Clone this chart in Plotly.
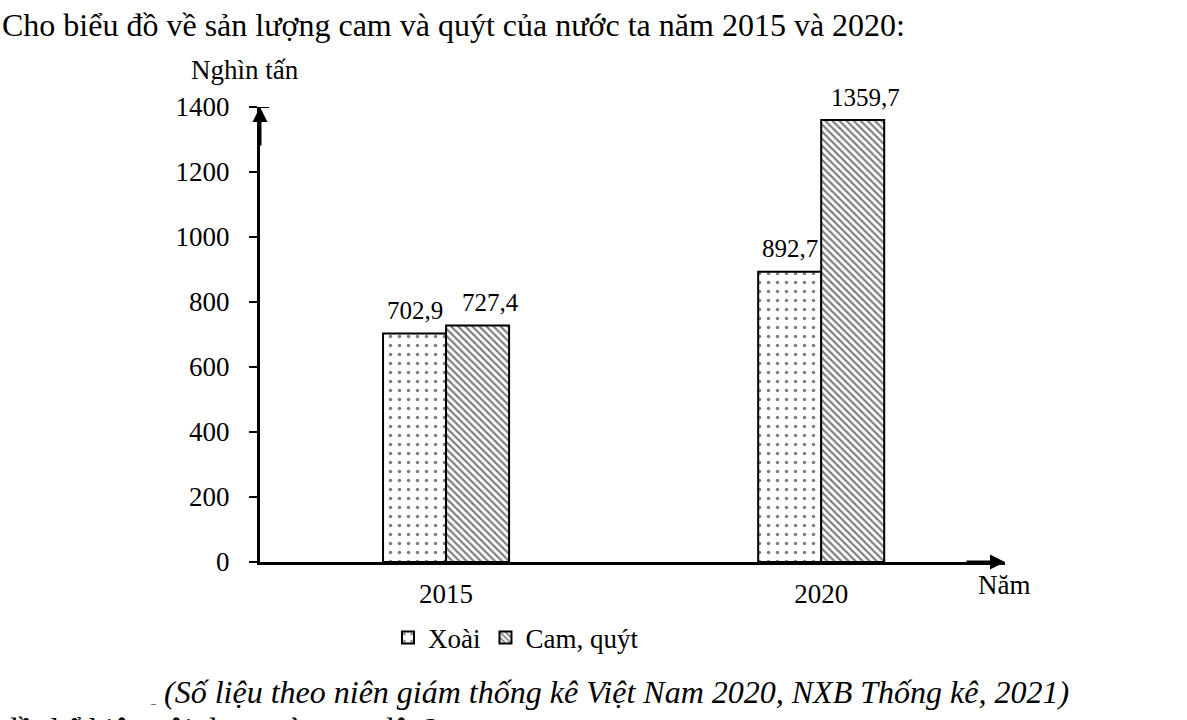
import plotly.graph_objects as go

# values (nghìn tấn)
YEARS = ["2015", "2020"]
XOAI = [702.9, 892.7]
CAM_QUYT = [727.4, 1359.7]
Y_TICKS = [0, 200, 400, 600, 800, 1000, 1200, 1400]

FONT = "Liberation Serif"
W, H = 1187, 720
# plot area in pixels
L, R, T, B = 260, 1005, 107, 562
BAR_W = 0.168


def paper(px, py):
    """pixel position -> paper coordinates of the plot area"""
    return (px - L) / (R - L), (B - py) / (B - T)


def note(px, py, text, size=27, xanchor="center", **kw):
    x, y = paper(px, py)
    fig.add_annotation(x=x, y=y, xref="paper", yref="paper", text=text,
                       xanchor=xanchor, yanchor="middle", showarrow=False,
                       font=dict(family=FONT, size=size, color="black"), **kw)


fig = go.Figure()

cats = list(range(len(YEARS)))

fig.add_trace(go.Bar(
    x=cats, y=XOAI, name="Xoài",
    offset=-BAR_W, width=BAR_W,
    marker=dict(color="white",
                line=dict(color="black", width=2),
                pattern=dict(shape=".", fgcolor="black", bgcolor="white",
                             size=9, solidity=0.12)),
))
fig.add_trace(go.Bar(
    x=cats, y=CAM_QUYT, name="Cam, quýt",
    offset=0, width=BAR_W,
    marker=dict(color="white",
                line=dict(color="black", width=2),
                pattern=dict(shape="\\", fgcolor="black", bgcolor="white",
                             size=5, solidity=0.45)),
))

# value labels above the bars
for i, v in enumerate(XOAI):
    fig.add_annotation(x=cats[i] - BAR_W / 2, y=v, text=f"{v:.1f}".replace(".", ","),
                       showarrow=False, yshift=23, xshift=0, yanchor="middle",
                       font=dict(family=FONT, size=25, color="black"))
for i, v in enumerate(CAM_QUYT):
    fig.add_annotation(x=cats[i] + BAR_W / 2, y=v, text=f"{v:.1f}".replace(".", ","),
                       showarrow=False, yshift=23, xshift=13, yanchor="middle",
                       font=dict(family=FONT, size=25, color="black"))

# axis arrows
fig.add_annotation(x=-0.496, y=1400, ax=0, ay=40,
                   text="", showarrow=True, arrowhead=2, arrowsize=1,
                   arrowwidth=3, arrowcolor="black")
fig.add_annotation(x=1.0, y=0, xref="paper", yref="paper", ax=-40, ay=0,
                   text="", showarrow=True, arrowhead=2, arrowsize=1,
                   arrowwidth=3, arrowcolor="black")
# 1400 tick crosses the axis
fig.add_shape(type="line", xref="x", yref="y", xsizemode="pixel",
              xanchor=-0.496, x0=-9, x1=9, y0=1400, y1=1400,
              line=dict(color="black", width=2))

# axis titles
note(245, 70, "Nghìn tấn")
note(1004, 585, "Năm")

# heading and source lines
note(0, 25, "Cho biểu đồ về sản lượng cam và quýt của nước ta năm 2015 và 2020:",
     size=32, xanchor="left")
note(148, 692, "<span style='font-size:10px'>_</span> <i>(Số liệu theo niên giám thống kê Việt Nam 2020, NXB Thống kê, 2021)</i>",
     size=32, xanchor="left")
note(0, 729, "đồ thể hiện nội dung nào sau đây?", size=32, xanchor="left")

fig.update_layout(
    width=W, height=H,
    margin=dict(l=L, r=W - R, t=T, b=H - B, autoexpand=False),
    paper_bgcolor="white", plot_bgcolor="white",
    showlegend=True,
    legend=dict(orientation="h", x=paper(388, 0)[0], y=paper(0, 638)[1],
                xanchor="left", yanchor="middle",
                font=dict(family=FONT, size=27, color="black"),
                itemwidth=30, tracegroupgap=0),
    font=dict(family=FONT, size=27, color="black"),
    xaxis=dict(range=[-0.496, 1.49], tickvals=cats, ticktext=YEARS,
               showgrid=False, zeroline=False, showline=True,
               linecolor="black", linewidth=3, ticks="",
               ticklabelstandoff=6,
               tickfont=dict(family=FONT, size=27, color="black")),
    yaxis=dict(range=[0, 1400], tickvals=Y_TICKS,
               showgrid=False, zeroline=False, showline=True,
               linecolor="black", linewidth=3, ticks="outside",
               ticklen=8, tickwidth=2, tickcolor="black",
               ticklabelstandoff=14,
               tickfont=dict(family=FONT, size=27, color="black")),
)

fig.write_html("out.html", config={"displayModeBar": False},
               post_script="document.body.style.margin='0';")
